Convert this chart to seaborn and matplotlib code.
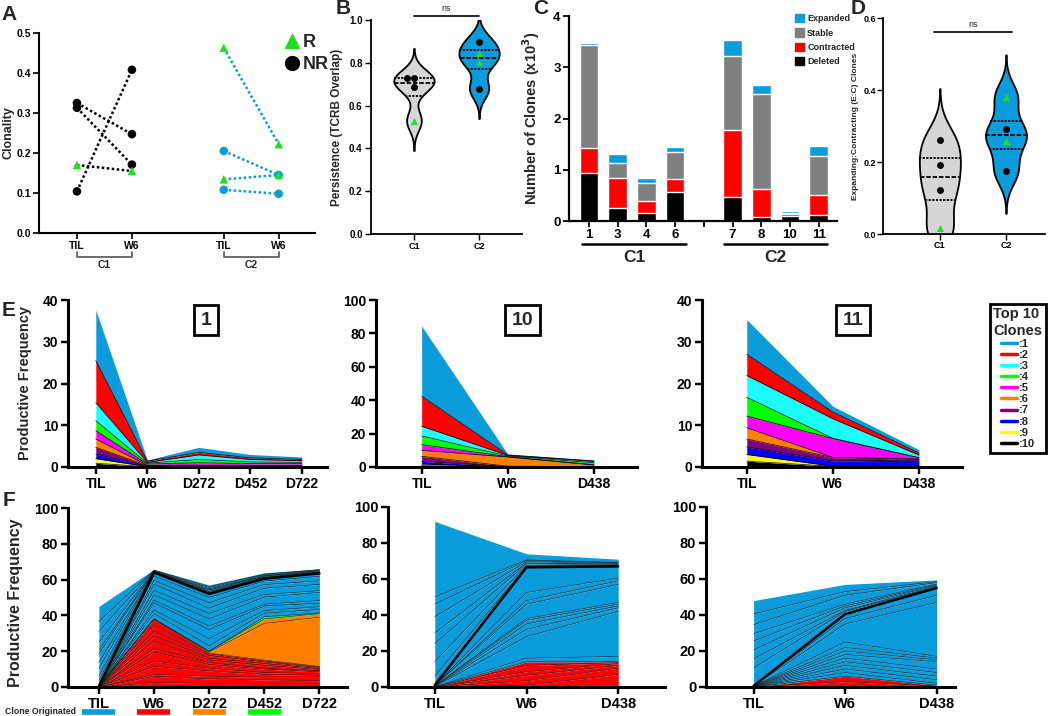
import numpy as np
import pandas as pd
import matplotlib
matplotlib.use("Agg")
import matplotlib.pyplot as plt
from matplotlib.lines import Line2D
from matplotlib.patches import Patch
import seaborn as sns

sns.set_style("ticks")
plt.rcParams["font.family"] = ["Liberation Sans", "DejaVu Sans"]
plt.rcParams["font.weight"] = "bold"
plt.rcParams["axes.labelweight"] = "bold"
plt.rcParams["axes.edgecolor"] = "black"
plt.rcParams["xtick.color"] = "black"
plt.rcParams["ytick.color"] = "black"

# ---------------- data ----------------
# A: clonality, TIL -> W6
a_c1_til = [0.325, 0.313, 0.170, 0.104]
a_c1_w6 = [0.247, 0.171, 0.155, 0.408]
a_c1_resp = ["NR", "NR", "R", "NR"]
a_c2_til = [0.463, 0.205, 0.134, 0.108]
a_c2_w6 = [0.222, 0.145, 0.145, 0.098]
a_c2_resp = ["R", "NR", "R", "NR"]

# B: persistence (TCRB overlap)
b_c1 = [0.728, 0.728, 0.686, 0.529]
b_c1_resp = ["NR", "NR", "NR", "R"]
b_c2 = [0.899, 0.844, 0.802, 0.678]
b_c2_resp = ["NR", "R", "R", "NR"]

# C: number of clones (x10^3)
c_patients = ["1", "3", "4", "6", "7", "8", "10", "11"]
c_deleted = [0.94, 0.26, 0.16, 0.57, 0.46, 0.07, 0.09, 0.11]
c_contracted = [0.49, 0.58, 0.24, 0.24, 1.31, 0.56, 0.05, 0.40]
c_stable = [2.01, 0.30, 0.34, 0.54, 1.45, 1.84, 0.02, 0.76]
c_expanded = [0.03, 0.16, 0.10, 0.09, 0.31, 0.19, 0.035, 0.20]

# D: expanding:contracting ratio
d_c1 = [0.261, 0.193, 0.121, 0.016]
d_c1_resp = ["NR", "NR", "NR", "R"]
d_c2 = [0.381, 0.291, 0.257, 0.174]
d_c2_resp = ["R", "NR", "R", "NR"]

# E: top 10 clones (rows = clone 1..10)
e1_times = ["TIL", "W6", "D272", "D452", "D722"]
e1_clones = [
    [12.1, 0.3, 1.2, 0.8, 0.6],
    [10.1, 0.3, 0.6, 0.4, 0.3],
    [4.3, 0.2, 1.1, 0.6, 0.4],
    [2.4, 0.2, 0.8, 0.4, 0.3],
    [2.0, 0.3, 0.6, 0.5, 0.5],
    [2.0, 0.1, 0.1, 0.05, 0.05],
    [1.6, 0.1, 0.1, 0.1, 0.1],
    [1.1, 0.1, 0.1, 0.05, 0.05],
    [1.1, 0.05, 0.05, 0.05, 0.05],
    [0.9, 0.05, 0.05, 0.05, 0.05],
]
e2_times = ["TIL", "W6", "D438"]
e2_clones = [
    [42.0, 0.4, 0.4],
    [18.0, 0.3, 0.3],
    [5.8, 0.4, 0.8],
    [5.2, 0.4, 1.2],
    [3.4, 0.2, 0.2],
    [3.6, 5.5, 0.9],
    [3.0, 0.2, 0.1],
    [1.6, 0.1, 0.05],
    [1.0, 0.05, 0.05],
    [0.8, 0.1, 0.05],
]
e3_times = ["TIL", "W6", "D438"]
e3_clones = [
    [8.3, 1.4, 0.8],
    [5.1, 1.6, 0.5],
    [5.2, 4.7, 0.6],
    [4.5, 0.05, 0.05],
    [2.8, 4.5, 0.3],
    [2.7, 0.05, 0.05],
    [1.9, 0.8, 0.2],
    [1.8, 1.25, 1.5],
    [1.6, 0.05, 0.05],
    [1.4, 0.15, 0.1],
]

# F: clones by time point of origin
f1_red = [
    [0, 2.5, 2.0, 2.0, 2.0], [0, 3.5, 2.5, 2.0, 1.5], [0, 1.0, 1.5, 1.5, 2.0],
    [0, 4.5, 3.0, 1.5, 1.0], [0, 3.0, 1.5, 1.0, 1.0], [0, 5.0, 2.0, 2.0, 1.0],
    [0, 2.0, 1.0, 0.5, 0.5], [0, 4.0, 1.5, 1.5, 0.8], [0, 3.0, 1.0, 1.0, 0.5],
    [0, 2.5, 1.5, 1.0, 0.5], [0, 3.5, 1.0, 0.5, 0.4], [0, 3.5, 0.5, 0.5, 0.3],
]
f1_orange = [[0, 0, 0.6, 20.5, 27.5], [0, 0, 0.4, 2.5, 2.0]]
f1_green = [[0, 0, 0, 1.2, 0.3]]
f1_blue_new = [
    [0.1, 3.0, 3.0, 2.0, 2.0], [0.05, 2.0, 4.0, 1.5, 1.5], [0.05, 4.0, 5.0, 2.5, 2.0],
    [0.05, 1.5, 2.0, 1.0, 1.5], [0.05, 3.0, 4.0, 4.0, 4.5], [0.05, 2.5, 3.0, 1.5, 1.0],
    [0.05, 3.5, 3.0, 3.5, 3.5], [0.05, 2.0, 3.0, 2.0, 2.0], [0.05, 2.5, 3.0, 2.0, 2.5],
    [0.05, 2.0, 2.0, 1.3, 1.7],
]
f1_blue_old = [
    [3.0, 0.1, 0.5, 0.3, 0.3], [2.5, 0.1, 0.3, 0.2, 0.2], [4.0, 0.1, 0.4, 0.2, 0.2],
    [3.5, 0.1, 0.3, 0.2, 0.2], [5.0, 0.2, 0.6, 0.4, 0.3], [2.0, 0.1, 0.3, 0.2, 0.2],
    [4.5, 0.2, 0.5, 0.3, 0.2], [6.0, 0.2, 0.6, 0.4, 0.3], [5.5, 0.2, 0.6, 0.3, 0.2],
    [8.5, 0.4, 0.9, 0.8, 0.4],
]
f2_red = [[0, 1.0, 7.0], [0, 2.5, 3.5], [0, 3.0, 1.5], [0, 2.0, 1.0], [0, 3.5, 0.5], [0, 2.0, 0.5]]
f2_blue_new = [
    [0.1, 2.0, 3.0], [0.1, 12.0, 25.0], [0.1, 4.0, 2.0], [0.1, 3.0, 1.0], [0.1, 2.0, 1.0],
    [0.1, 1.0, 1.0], [0.1, 8.0, 10.0], [0.1, 2.0, 2.0], [0.1, 4.5, 1.5], [0.1, 14.0, 6.5],
]
f2_blue_old = [
    [5, 0.5, 0.3], [8, 0.6, 0.3], [10, 0.8, 0.4], [6, 0.5, 0.3],
    [9, 0.7, 0.4], [7, 0.6, 0.3], [4, 0.4, 0.2], [42, 3.4, 1.8],
]
f3_red = [[0, 3.0, 0.5], [0, 3.0, 0.5]]
f3_blue_new = [
    [0.05, 2, 1], [0.05, 2, 2], [0.05, 2, 2], [0.05, 2, 2], [0.05, 2, 2], [0.05, 2, 4],
    [0.05, 2, 1], [0.05, 2, 1], [0.05, 3, 1], [0.05, 10, 30], [0.05, 3, 4], [0.05, 2.5, 4],
]
f3_blue_old = [
    [10, 1.5, 0.5], [5, 0.5, 0.4], [5, 1.5, 0.4], [5, 1.0, 0.4],
    [4, 1.0, 0.5], [5, 5.0, 0.8], [6, 2.0, 0.5], [7.4, 4.0, 1.0],
]

SKY = "#0A9CDB"
GREEN = "#22DD22"
VGRAY = "#D6D6D6"
STABLE = "#7F7F7F"
RED = "#FF0000"
ORANGE = "#FF8000"
LIME = "#00FF00"
clone_colors = [SKY, RED, "#1CFFFF", LIME, "#FF00FF", ORANGE, "#800080", "#0000FF", "#FFFF00", "#000000"]

W, H = 1050, 716
fig = plt.figure(figsize=(W / 100, H / 100), dpi=100)


def box(l, t, r, b):
    return fig.add_axes([l / W, 1 - b / H, (r - l) / W, (b - t) / H])


def style(ax, lw, tsize, tlen=4, pad=2):
    sns.despine(ax=ax)
    for s in ["left", "bottom"]:
        ax.spines[s].set_linewidth(lw)
    ax.tick_params(width=lw * 0.8, length=tlen, labelsize=tsize, pad=pad)
    ax.set_xlabel("")


def letter(x, y, s):
    fig.text(x / W, 1 - y / H, s, fontsize=15, ha="center", va="center")


# ---------------- A ----------------
axA = box(39, 33, 315, 233)
a_xpos = {"C1": (0, 1), "C2": (2.67, 3.67)}
rows = []
for cohort, til, w6, resp in [("C1", a_c1_til, a_c1_w6, a_c1_resp),
                              ("C2", a_c2_til, a_c2_w6, a_c2_resp)]:
    for i in range(len(til)):
        for j, v in enumerate([til[i], w6[i]]):
            rows.append(dict(cohort=cohort, subject=f"{cohort}{i}", x=a_xpos[cohort][j],
                             value=v, resp=resp[i], kind=f"{cohort}-{resp[i]}"))
df_a = pd.DataFrame(rows)
for cohort, col in [("C1", "black"), ("C2", SKY)]:
    sns.lineplot(data=df_a[df_a.cohort == cohort], x="x", y="value", units="subject",
                 estimator=None, color=col, linestyle=(0, (1, 1)), linewidth=1.8, ax=axA)
sns.scatterplot(data=df_a, x="x", y="value", hue="kind", style="resp",
                markers={"R": "^", "NR": "o"},
                palette={"C1-NR": "black", "C1-R": GREEN, "C2-NR": SKY, "C2-R": GREEN},
                s=38, edgecolor="none", legend=False, zorder=3, ax=axA)
axA.set_xlim(-0.69, 4.33)
axA.set_ylim(0, 0.5)
axA.set_yticks(np.arange(0, 0.51, 0.1))
axA.set_yticklabels([f"{v:.1f}" for v in np.arange(0, 0.51, 0.1)])
axA.set_xticks([0, 1, 2.67, 3.67])
axA.set_xticklabels(["TIL", "W6", "TIL", "W6"])
axA.set_ylabel("Clonality", fontsize=9)
axA.yaxis.set_label_coords(-0.088, 0.5)
style(axA, 1.5, 7.5)
for cohort in ["C1", "C2"]:
    x0, x1 = a_xpos[cohort]
    axA.plot([x0, x0, x1, x1], [-0.095, -0.12, -0.12, -0.095], color="#555555", lw=1.2,
             transform=axA.get_xaxis_transform(), clip_on=False)
    axA.text((x0 + x1) / 2, -0.16, cohort, fontsize=7.5, ha="center", va="center",
             transform=axA.get_xaxis_transform())
axA.legend(handles=[Line2D([], [], marker="^", color=GREEN, ls="", ms=10),
                    Line2D([], [], marker="o", color="black", ls="", ms=10)],
           labels=["R", "NR"], loc="upper left", bbox_to_anchor=(0.85, 1.04), frameon=False,
           fontsize=13, handletextpad=0.1, labelspacing=0.3, borderpad=0, handlelength=1)


# ---------------- violins (B, D) ----------------
def violin_panel(ax, c1, c1r, c2, c2r, bw):
    df = pd.DataFrame({"group": ["C1"] * len(c1) + ["C2"] * len(c2),
                       "value": c1 + c2, "resp": c1r + c2r})
    sns.violinplot(data=df, x="group", y="value", hue="group", order=["C1", "C2"],
                   palette={"C1": VGRAY, "C2": SKY}, inner="quart", bw_adjust=bw, cut=3,
                   density_norm="width", width=0.62, linewidth=1.3, linecolor="black",
                   saturation=1, legend=False, ax=ax)
    for resp, mk, col in [("NR", "o", "black"), ("R", "^", GREEN)]:
        sns.swarmplot(data=df[df.resp == resp], x="group", y="value", order=["C1", "C2"],
                      marker=mk, color=col, size=5, ax=ax, zorder=4)
    ax.set_xlabel("")


axB = box(371, 20, 522, 234)
violin_panel(axB, b_c1, b_c1_resp, b_c2, b_c2_resp, 0.65)
axB.set_xlim(-0.66, 1.66)
axB.set_ylim(0, 1.0)
axB.set_yticks(np.arange(0, 1.01, 0.2))
axB.set_yticklabels([f"{v:.1f}" for v in np.arange(0, 1.01, 0.2)])
axB.set_ylabel("Persistence (TCRB Overlap)", fontsize=8.5)
axB.yaxis.set_label_coords(-0.185, 0.5)
style(axB, 1.3, 7)
axB.tick_params(axis="x", labelsize=6.5)
axB.plot([0, 1], [1.02, 1.02], color="black", lw=1.2, clip_on=False)
axB.text(0.5, 1.035, "ns", fontsize=6.5, fontweight="normal", ha="center", va="bottom")

axD = box(883, 18, 1045, 234)
violin_panel(axD, d_c1, d_c1_resp, d_c2, d_c2_resp, 0.6)
axD.set_xlim(-0.86, 1.59)
axD.set_ylim(0, 0.6)
axD.set_yticks([0, 0.2, 0.4, 0.6])
axD.set_yticklabels(["0.0", "0.2", "0.4", "0.6"])
axD.set_ylabel("Expanding:Contracting (E:C) Clones", fontsize=6)
axD.yaxis.set_label_coords(-0.15, 0.5)
style(axD, 1.3, 6.5, pad=1)
axD.tick_params(axis="x", labelsize=6.5)
axD.plot([-0.09, 1.09], [0.561, 0.561], color="black", lw=1.2, clip_on=False)
axD.text(0.5, 0.57, "ns", fontsize=6.5, fontweight="normal", ha="center", va="bottom")

# ---------------- C ----------------
axC = box(569, 16, 837, 221)
df_c = pd.DataFrame({"patient": c_patients, "deleted": c_deleted,
                     "contracted": c_contracted, "stable": c_stable, "expanded": c_expanded})
df_c["lvl_contr"] = df_c.deleted + df_c.contracted
df_c["lvl_stable"] = df_c.lvl_contr + df_c.stable
df_c["lvl_exp"] = df_c.lvl_stable + df_c.expanded
c_order = ["1", "3", "4", "6", " ", "7", "8", "10", "11"]
for col, color in [("lvl_exp", SKY), ("lvl_stable", STABLE), ("lvl_contr", RED), ("deleted", "black")]:
    sns.barplot(data=df_c, x="patient", y=col, order=c_order, color=color, width=0.65,
                saturation=1, errorbar=None, ax=axC)
axC.set_xlim(-0.7, 8.64)
axC.set_ylim(0, 4)
axC.set_yticks([0, 1, 2, 3, 4])
axC.set_ylabel("Number of Clones (x10$^{\\mathbf{3}}$)", fontsize=10.5)
axC.yaxis.set_label_coords(-0.1, 0.5)
style(axC, 1.6, 9.5)
for grp, x0, x1 in [("C1", -0.24, 3.38), ("C2", 4.7, 8.29)]:
    axC.plot([x0, x1], [-0.112, -0.112], color="black", lw=1.8,
             transform=axC.get_xaxis_transform(), clip_on=False)
    axC.text((x0 + x1) / 2, -0.18, grp, fontsize=12.5, ha="center", va="center",
             transform=axC.get_xaxis_transform())
axC.legend(handles=[Patch(color=SKY), Patch(color=STABLE), Patch(color=RED), Patch(color="black")],
           labels=["Expanded", "Stable", "Contracted", "Deleted"], loc="upper left",
           bbox_to_anchor=(0.825, 1.03), frameon=False, fontsize=6.5, handlelength=1.0,
           handleheight=1.0, handletextpad=0.4, labelspacing=0.55, borderpad=0)


# ---------------- stacked areas (E, F) ----------------
def stack(ax, times, layers, colors, strong_idx=None, lw=0.6, lcol="black"):
    x = np.arange(len(times))
    arr = np.array(layers, dtype=float)
    ax.stackplot(x, arr, colors=colors, linewidth=0)
    tops = np.cumsum(arr, axis=0)
    for k, top in enumerate(tops[:-1]):
        ax.plot(x, top, color=lcol, lw=lw, alpha=0.85)
    if strong_idx is not None:
        ax.plot(x, tops[strong_idx], color="black", lw=1.8)
    ax.set_xticks(x)
    ax.set_xticklabels(times)


def boxed(ax, fx, fy, s):
    ax.text(fx, fy, s, transform=ax.transAxes, fontsize=14, ha="center", va="center",
            bbox=dict(boxstyle="square,pad=0.35", fc="white", ec="black", lw=2))


e_panels = [
    ((68, 300, 327, 467), e1_times, e1_clones, 40, 10, (-0.54, 4.49), "1", 0.533),
    ((376, 300, 637, 467), e2_times, e2_clones, 100, 20, (-0.53, 2.5), "10", 0.56),
    ((702, 300, 962, 467), e3_times, e3_clones, 40, 10, (-0.52, 2.5), "11", 0.58),
]
e_axes = []
for rect, times, clones, ymax, step, xl, name, bx in e_panels:
    ax = box(*rect)
    stack(ax, times, clones[::-1], clone_colors[::-1])
    ax.set_xlim(*xl)
    ax.set_ylim(0, ymax)
    ax.set_yticks(np.arange(0, ymax + 1, step))
    style(ax, 2.2, 10, 5)
    boxed(ax, bx, 0.88, name)
    e_axes.append(ax)
e_axes[0].set_ylabel("Productive Frequency", fontsize=10.5)
e_axes[0].yaxis.set_label_coords(-0.14, 0.5)

fig.legend(handles=[Line2D([], [], color=c, lw=2.5) for c in clone_colors],
           labels=[f":{i}" for i in range(1, 11)], title="Top 10\nClones",
           title_fontproperties={"weight": "bold", "size": 10.5}, loc="upper left",
           bbox_to_anchor=(984 / W, 1 - 298 / H), fontsize=8, handlelength=1.4,
           handletextpad=0.2, labelspacing=0.1, borderpad=0.35, fancybox=False,
           edgecolor="black", framealpha=1)
fig.legends[-1].get_frame().set_linewidth(2)

f_panels = [
    ((68, 508, 347, 687), e1_times, [f1_red, f1_orange, f1_green, f1_blue_new, f1_blue_old],
     [RED, ORANGE, LIME, SKY, SKY], (-0.56, 4.5)),
    ((388, 507, 665, 687), e2_times, [f2_red, f2_blue_new, f2_blue_old],
     [RED, SKY, SKY], (-0.51, 2.51)),
    ((706, 507, 955, 687), e3_times, [f3_red, f3_blue_new, f3_blue_old],
     [RED, SKY, SKY], (-0.52, 2.2)),
]
f_axes = []
for rect, times, groups, gcolors, xl in f_panels:
    ax = box(*rect)
    layers, cols = [], []
    for g, c in zip(groups, gcolors):
        layers += g
        cols += [c] * len(g)
    strong = sum(len(g) for g in groups[:-1]) - 1
    stack(ax, times, layers, cols, strong_idx=strong, lw=0.45, lcol="#1a1a1a")
    ax.set_xlim(*xl)
    ax.set_ylim(0, 100)
    ax.set_yticks(np.arange(0, 101, 20))
    style(ax, 2.2, 10.5, 5)
    f_axes.append(ax)
f_axes[0].set_ylabel("Productive Frequency", fontsize=11.5)
f_axes[0].yaxis.set_label_coords(-0.16, 0.47)

fig.text(5 / W, 1 - 712 / H, "Clone Originated", fontsize=6.3, va="center")
fig.legend(handles=[Line2D([], [], color=c, lw=4, solid_capstyle="butt") for c in [SKY, RED, ORANGE, LIME]],
           labels=[""] * 4, ncol=4, loc="center left", bbox_to_anchor=(82 / W, 1 - 712 / H),
           frameon=False, fontsize=7, handlelength=3.4, handletextpad=0, columnspacing=2.3,
           borderpad=0, borderaxespad=0)

for x, y, s in [(9, 15, "A"), (343, 9, "B"), (541, 9, "C"), (858, 9, "D"), (9, 310, "E"), (9, 500, "F")]:
    letter(x, y, s)

fig.savefig("out.png", dpi=100)
